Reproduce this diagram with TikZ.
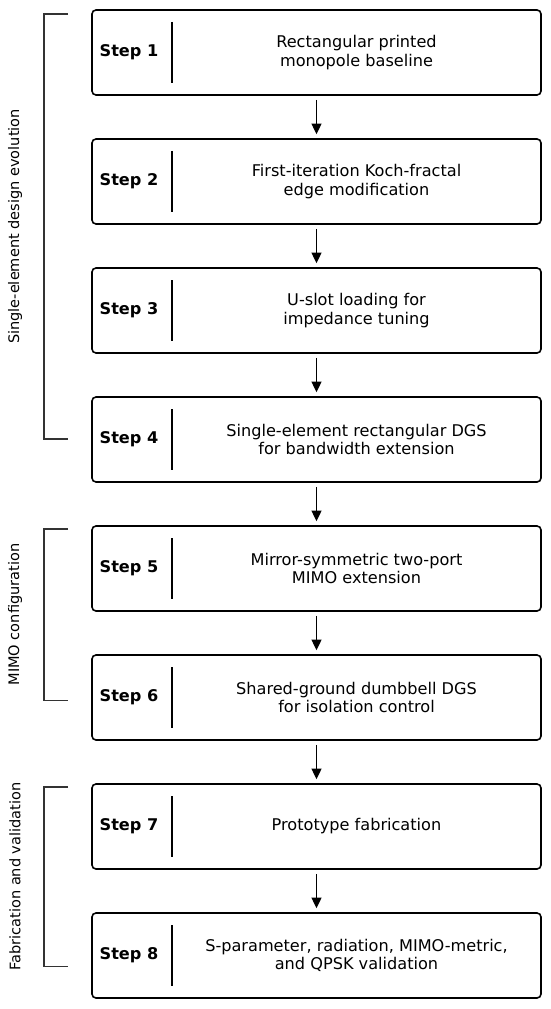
\documentclass[tikz,border=0pt]{standalone}
\usepackage{fontspec}
\setmainfont{DejaVu Sans}
\usetikzlibrary{arrows.meta}
\begin{document}
\begin{tikzpicture}[x=0.75pt,y=-0.75pt,
  stepbox/.style={draw=black,line width=1.2pt,rounded corners=3pt,minimum width=449*0.75pt,minimum height=85*0.75pt,inner sep=0pt},
  steplbl/.style={font=\fontsize{12.1}{14}\selectfont\bfseries},
  desc/.style={font=\fontsize{12.1}{13.6}\selectfont,align=center},
  sep/.style={line width=0.9pt},
  flow/.style={line width=1.1pt,-{Triangle[length=8pt,width=7.5pt]}},
  brk/.style={line width=0.9pt,draw=black!80},
  grp/.style={font=\fontsize{10.9}{13}\selectfont,rotate=90}]
\useasboundingbox (0,0) rectangle (550,1009);
\foreach \i/\t in {1/{Rectangular printed\\monopole baseline},
                   2/{First-iteration Koch-fractal\\edge modification},
                   3/{U-slot loading for\\impedance tuning},
                   4/{Single-element rectangular DGS\\for bandwidth extension},
                   5/{Mirror-symmetric two-port\\MIMO extension},
                   6/{Shared-ground dumbbell DGS\\for isolation control},
                   7/{Prototype fabrication},
                   8/{S-parameter, radiation, MIMO-metric,\\and QPSK validation}}{
  \pgfmathsetmacro{\yc}{52.5+129*(\i-1)}
  \node[stepbox] (b\i) at (316.5,\yc) {};
  \node[steplbl] (l\i) at (129,\yc) {Step \i};
  \node[desc] (d\i) at (356.5,\yc) {\t};
  \coordinate (s\i a) at (172,\yc-30.5);
  \coordinate (s\i b) at (172,\yc+30.5);
  \draw[sep] (s\i a) -- (s\i b);
}
\foreach \i [evaluate=\i as \j using int(\i+1)] in {1,...,7}{
  \draw[flow] ([yshift=-3pt]b\i.south) -- ([yshift=3pt]b\j.north);
}
% brackets
\coordinate (g1t) at (68,14); \coordinate (g1b) at (68,439);
\coordinate (g2t) at (68,529); \coordinate (g2b) at (68,700.5);
\coordinate (g3t) at (68,787); \coordinate (g3b) at (68,966.5);
\draw[brk] (g1t) -- ++(-24,0) |- (g1b);
\draw[brk] (g2t) -- ++(-24,0) |- (g2b);
\draw[brk] (g3t) -- ++(-24,0) |- (g3b);
\node[grp] (t1) at (15,226.5) {Single-element design evolution};
\node[grp] (t2) at (15,614.5) {MIMO configuration};
\node[grp] (t3) at (15,876.5) {Fabrication and validation};
\end{tikzpicture}
\end{document}
